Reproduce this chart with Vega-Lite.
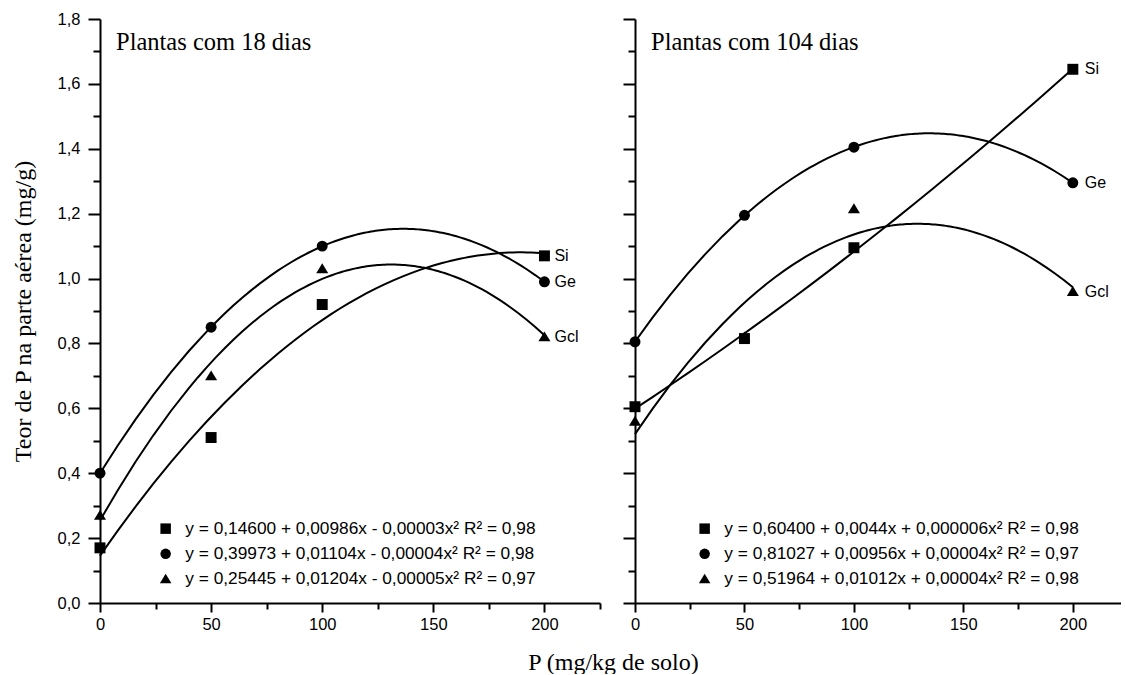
{
  "$schema": "https://vega.github.io/schema/vega-lite/v6.json",
  "padding": {"left": 11, "top": 11, "right": 0, "bottom": 0},
  "autosize": {"type": "pad"},
  "background": "white",
  "config": {
    "font": "Liberation Sans",
    "view": {"stroke": null},
    "axis": {
      "domainColor": "black", "domainWidth": 2, "tickColor": "black", "tickWidth": 2,
      "labelColor": "black", "labelFont": "Liberation Sans", "labelFontSize": 16.5,
      "titleFont": "Liberation Serif", "titleFontSize": 24, "titleFontWeight": "normal", "titleColor": "black",
      "grid": false, "labelFlush": false, "labelOverlap": false
    }
  },
  "data": {
    "values": [
      {"panel": "18", "serie": "Si", "x": 0, "y": 0.17},
      {"panel": "18", "serie": "Si", "x": 50, "y": 0.51},
      {"panel": "18", "serie": "Si", "x": 100, "y": 0.92},
      {"panel": "18", "serie": "Si", "x": 200, "y": 1.07},
      {"panel": "18", "serie": "Ge", "x": 0, "y": 0.40},
      {"panel": "18", "serie": "Ge", "x": 50, "y": 0.85},
      {"panel": "18", "serie": "Ge", "x": 100, "y": 1.10},
      {"panel": "18", "serie": "Ge", "x": 200, "y": 0.99},
      {"panel": "18", "serie": "Gcl", "x": 0, "y": 0.27},
      {"panel": "18", "serie": "Gcl", "x": 50, "y": 0.70},
      {"panel": "18", "serie": "Gcl", "x": 100, "y": 1.03},
      {"panel": "18", "serie": "Gcl", "x": 200, "y": 0.82},
      {"panel": "104", "serie": "Si", "x": 0, "y": 0.605},
      {"panel": "104", "serie": "Si", "x": 50, "y": 0.815},
      {"panel": "104", "serie": "Si", "x": 100, "y": 1.095},
      {"panel": "104", "serie": "Si", "x": 200, "y": 1.645},
      {"panel": "104", "serie": "Ge", "x": 0, "y": 0.805},
      {"panel": "104", "serie": "Ge", "x": 50, "y": 1.195},
      {"panel": "104", "serie": "Ge", "x": 100, "y": 1.405},
      {"panel": "104", "serie": "Ge", "x": 200, "y": 1.295},
      {"panel": "104", "serie": "Gcl", "x": 0, "y": 0.56},
      {"panel": "104", "serie": "Gcl", "x": 50, "y": 0.82},
      {"panel": "104", "serie": "Gcl", "x": 100, "y": 1.215},
      {"panel": "104", "serie": "Gcl", "x": 200, "y": 0.96}
    ]
  },
  "bounds": "flush",
  "spacing": 35,
  "resolve": {"scale": {"shape": "independent"}, "legend": {"shape": "independent"}},
  "hconcat": [
    {
      "width": 500, "height": 584,
      "transform": [{"filter": "datum.panel == '18'"}],
      "layer": [
        {
          "transform": [{"regression": "y", "on": "x", "groupby": ["serie"], "method": "poly", "order": 2, "extent": [0, 200]}],
          "mark": {"type": "line", "color": "black", "strokeWidth": 2},
          "encoding": {
            "x": {"field": "x", "type": "quantitative", "scale": {"domain": [0, 225], "nice": false, "zero": false},
              "axis": {"orient": "bottom", "values": [0, 50, 100, 150, 200], "tickSize": 9, "labelPadding": 4,
                "title": "P (mg/kg de solo)", "titleX": 513, "titleY": 66, "titleBaseline": "alphabetic", "titleAlign": "center"}},
            "y": {"field": "y", "type": "quantitative", "scale": {"domain": [0, 1.8], "nice": false, "zero": false},
              "axis": {"orient": "left", "values": [0, 0.2, 0.4, 0.6, 0.8, 1.0, 1.2, 1.4, 1.6, 1.8], "tickSize": 12, "labelPadding": 8,
                "labelExpr": "replace(format(datum.value, '.1f'), '.', ',')",
                "title": "Teor de P na parte aérea (mg/g)", "titlePadding": 22}},
            "detail": {"field": "serie"}
          }
        },
        {
          "mark": {"type": "point", "filled": true, "opacity": 1, "color": "black", "size": 120},
          "encoding": {
            "x": {"field": "x", "type": "quantitative",
              "axis": {"orient": "bottom", "values": [25, 75, 125, 175, 225], "tickSize": 6, "labels": false, "domain": false, "title": null}},
            "y": {"field": "y", "type": "quantitative",
              "axis": {"orient": "left", "values": [0.1, 0.3, 0.5, 0.7, 0.9, 1.1, 1.3, 1.5, 1.7], "tickSize": 7, "labels": false, "domain": false, "title": null}},
            "shape": {"field": "serie", "type": "nominal",
              "scale": {"domain": ["Si", "Ge", "Gcl"], "range": ["square", "circle", "M-1.1,0.8L1.1,0.8L0,-1Z"]},
              "legend": {"orient": "none", "legendX": 57, "legendY": 501, "title": null, "padding": 0,
                "labelExpr": "datum.label == 'Si' ? 'y = 0,14600 + 0,00986x - 0,00003x² R² = 0,98' : datum.label == 'Ge' ? 'y = 0,39973 + 0,01104x - 0,00004x² R² = 0,98' : 'y = 0,25445 + 0,01204x - 0,00005x² R² = 0,97'",
                "labelFont": "Liberation Sans", "labelFontSize": 17.3, "labelColor": "black", "labelLimit": 0,
                "symbolFillColor": "black", "symbolStrokeColor": "black", "symbolStrokeWidth": 0, "symbolSize": 110,
                "rowPadding": 7.2, "labelOffset": 11}}
          }
        },
        {
          "transform": [{"filter": "datum.x == 200"}],
          "mark": {"type": "text", "align": "left", "baseline": "middle", "dx": 10, "font": "Liberation Sans", "fontSize": 16, "color": "black"},
          "encoding": {
            "x": {"field": "x", "type": "quantitative", "axis": null},
            "y": {"field": "y", "type": "quantitative", "axis": null},
            "text": {"field": "serie"}
          }
        },
        {
          "data": {"values": [{"titulo": "Plantas com 18 dias"}]},
          "mark": {"type": "text", "align": "left", "baseline": "alphabetic", "dx": 16, "dy": 31, "font": "Liberation Serif", "fontSize": 24.5, "color": "black"},
          "encoding": {
            "x": {"datum": 0, "type": "quantitative", "axis": null},
            "y": {"datum": 1.8, "type": "quantitative", "axis": null},
            "text": {"field": "titulo"}
          }
        }
      ],
      "resolve": {"axis": {"x": "independent", "y": "independent"}}
    },
    {
      "width": 486, "height": 584,
      "transform": [{"filter": "datum.panel == '104'"}],
      "layer": [
        {
          "transform": [{"regression": "y", "on": "x", "groupby": ["serie"], "method": "poly", "order": 2, "extent": [0, 200]}],
          "mark": {"type": "line", "color": "black", "strokeWidth": 2},
          "encoding": {
            "x": {"field": "x", "type": "quantitative", "scale": {"domain": [0, 222], "nice": false, "zero": false},
              "axis": {"orient": "bottom", "values": [0, 50, 100, 150, 200], "tickSize": 9, "labelPadding": 4, "title": null}},
            "y": {"field": "y", "type": "quantitative", "scale": {"domain": [0, 1.8], "nice": false, "zero": false},
              "axis": {"orient": "left", "values": [0, 0.2, 0.4, 0.6, 0.8, 1.0, 1.2, 1.4, 1.6, 1.8], "tickSize": 12, "labels": false, "title": null}},
            "detail": {"field": "serie"}
          }
        },
        {
          "mark": {"type": "point", "filled": true, "opacity": 1, "color": "black", "size": 120},
          "encoding": {
            "x": {"field": "x", "type": "quantitative",
              "axis": {"orient": "bottom", "values": [25, 75, 125, 175], "tickSize": 6, "labels": false, "domain": false, "title": null}},
            "y": {"field": "y", "type": "quantitative",
              "axis": {"orient": "left", "values": [0.1, 0.3, 0.5, 0.7, 0.9, 1.1, 1.3, 1.5, 1.7], "tickSize": 7, "labels": false, "domain": false, "title": null}},
            "shape": {"field": "serie", "type": "nominal",
              "scale": {"domain": ["Si", "Ge", "Gcl"], "range": ["square", "circle", "M-1.1,0.8L1.1,0.8L0,-1Z"]},
              "legend": {"orient": "none", "legendX": 61, "legendY": 501, "title": null, "padding": 0,
                "labelExpr": "datum.label == 'Si' ? 'y = 0,60400 + 0,0044x + 0,000006x² R² = 0,98' : datum.label == 'Ge' ? 'y = 0,81027 + 0,00956x + 0,00004x² R² = 0,97' : 'y = 0,51964 + 0,01012x + 0,00004x² R² = 0,98'",
                "labelFont": "Liberation Sans", "labelFontSize": 17.3, "labelColor": "black", "labelLimit": 0,
                "symbolFillColor": "black", "symbolStrokeColor": "black", "symbolStrokeWidth": 0, "symbolSize": 110,
                "rowPadding": 7.2, "labelOffset": 11}}
          }
        },
        {
          "transform": [{"filter": "datum.x == 200"}],
          "mark": {"type": "text", "align": "left", "baseline": "middle", "dx": 12, "font": "Liberation Sans", "fontSize": 16, "color": "black"},
          "encoding": {
            "x": {"field": "x", "type": "quantitative", "axis": null},
            "y": {"field": "y", "type": "quantitative", "axis": null},
            "text": {"field": "serie"}
          }
        },
        {
          "data": {"values": [{"titulo": "Plantas com 104 dias"}]},
          "mark": {"type": "text", "align": "left", "baseline": "alphabetic", "dx": 16, "dy": 31, "font": "Liberation Serif", "fontSize": 24.5, "color": "black"},
          "encoding": {
            "x": {"datum": 0, "type": "quantitative", "axis": null},
            "y": {"datum": 1.8, "type": "quantitative", "axis": null},
            "text": {"field": "titulo"}
          }
        }
      ],
      "resolve": {"axis": {"x": "independent", "y": "independent"}}
    }
  ]
}
